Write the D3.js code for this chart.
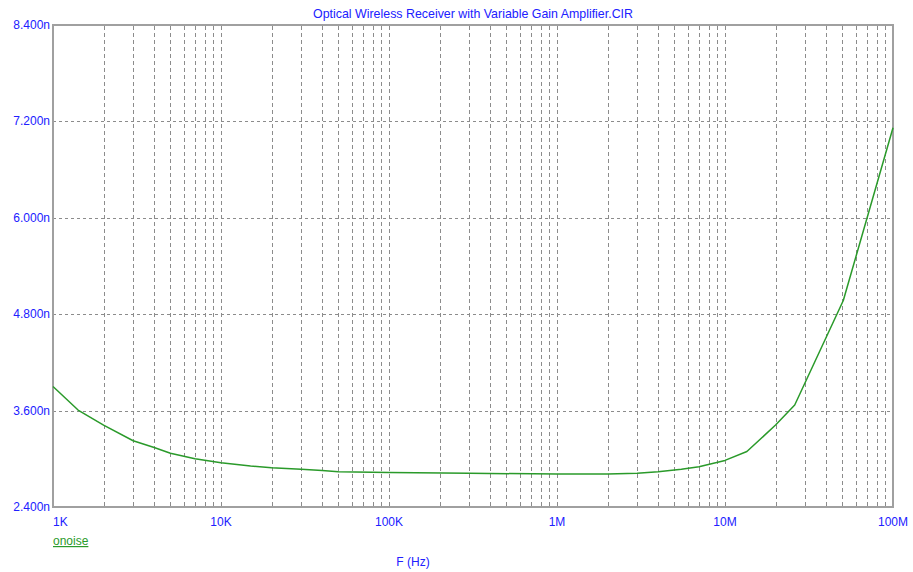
<!DOCTYPE html>
<html>
<head>
<meta charset="utf-8">
<script src="https://cdn.jsdelivr.net/npm/d3@7"></script>
<style>
  html, body { margin: 0; padding: 0; background: #fff; }
  svg { display: block; }
  text { font-family: "Liberation Sans", Arial, sans-serif; font-size: 12px; }
</style>
</head>
<body>
<svg id="chart" width="913" height="572"></svg>
<script>
// ---------- data ----------

const title = "Optical Wireless Receiver with Variable Gain Amplifier.CIR";
const xTitle = "F (Hz)";
const seriesName = "onoise";

// frequency (Hz) and output noise (shown in "n" units)
const freqs = [
  1e3, 1.41e3, 2e3, 3e3, 4e3, 5e3, 7e3, 1e4, 1.5e4, 2e4, 3e4, 4e4, 5e4,
  1e5, 3e5, 1e6, 2e6, 3e6, 4e6, 5.5e6, 7e6, 1e7, 1.35e7, 2e7, 2.6e7,
  5.06e7, 1e8,
];
const onoise = [
  3.90, 3.607, 3.42, 3.225, 3.14, 3.07, 3.00, 2.95, 2.91, 2.89, 2.87, 2.855, 2.84,
  2.83, 2.82, 2.81, 2.81, 2.82, 2.84, 2.87, 2.90, 2.98, 3.09, 3.42, 3.67,
  4.97, 7.12,
];

const xTickValues = [1e3, 1e4, 1e5, 1e6, 1e7, 1e8];
const xTickLabels = ["1K", "10K", "100K", "1M", "10M", "100M"];
const yTickValues = [2.4, 3.6, 4.8, 6.0, 7.2, 8.4];
const yTickLabels = ["2.400n", "3.600n", "4.800n", "6.000n", "7.200n", "8.400n"];

// ---------- layout ----------

const plot = { left: 53, right: 893, top: 25, bottom: 507 };
const blue = "#2020ff";
const green = "#2a9a2a";
const gridColor = "#8c8c8c";

const svg = d3.select("#chart");

const x = d3.scaleLog().domain([1e3, 1e8]).range([plot.left, plot.right]);
const y = d3.scaleLinear().domain([2.4, 8.4]).range([plot.bottom, plot.top]);

// vertical grid (log minor + decades), skip the frame edges
const vGrid = x.ticks().filter((d) => d > 1e3 && d < 1e8);
svg
  .append("g")
  .selectAll("line")
  .data(vGrid)
  .join("line")
  .attr("x1", (d) => Math.round(x(d)) + 0.5)
  .attr("x2", (d) => Math.round(x(d)) + 0.5)
  .attr("y1", plot.top + 1)
  .attr("y2", plot.bottom)
  .attr("stroke", gridColor)
  .attr("stroke-width", 1)
  .attr("stroke-dasharray", "4,3");

// horizontal grid
svg
  .append("g")
  .selectAll("line")
  .data(yTickValues.slice(1, -1))
  .join("line")
  .attr("x1", plot.left)
  .attr("x2", plot.right)
  .attr("y1", (d) => Math.round(y(d)) + 0.5)
  .attr("y2", (d) => Math.round(y(d)) + 0.5)
  .attr("stroke", gridColor)
  .attr("stroke-width", 1)
  .attr("stroke-dasharray", "3,3");

// frame
svg
  .append("rect")
  .attr("x", plot.left)
  .attr("y", plot.top)
  .attr("width", plot.right - plot.left)
  .attr("height", plot.bottom - plot.top)
  .attr("fill", "none")
  .attr("stroke", "#a0a0a0")
  .attr("stroke-width", 2);

// curve
const line = d3
  .line()
  .x((d) => x(d[0]))
  .y((d) => y(d[1]));

svg
  .append("path")
  .datum(d3.zip(freqs, onoise))
  .attr("d", line)
  .attr("fill", "none")
  .attr("stroke", green)
  .attr("stroke-width", 1.5)
  .attr("stroke-linejoin", "round");

// y labels
svg
  .append("g")
  .selectAll("text")
  .data(yTickValues)
  .join("text")
  .attr("x", plot.left - 3)
  .attr("y", (d) => y(d) + 4)
  .attr("text-anchor", "end")
  .attr("fill", blue)
  .text((d, i) => yTickLabels[i]);

// x labels: first one starts at the axis, the rest are centred
svg
  .append("g")
  .selectAll("text")
  .data(xTickValues)
  .join("text")
  .attr("x", (d) => x(d))
  .attr("y", 526)
  .attr("text-anchor", (d, i) => (i === 0 ? "start" : "middle"))
  .attr("fill", blue)
  .text((d, i) => xTickLabels[i]);

// title
svg
  .append("text")
  .attr("x", (plot.left + plot.right) / 2)
  .attr("y", 18)
  .attr("text-anchor", "middle")
  .attr("fill", blue)
  .style("font-size", "12.4px")
  .text(title);

// legend entry
svg
  .append("text")
  .attr("x", plot.left)
  .attr("y", 545)
  .attr("fill", green)
  .attr("text-decoration", "underline")
  .text(seriesName);

// x axis title
svg
  .append("text")
  .attr("x", 413)
  .attr("y", 566)
  .attr("text-anchor", "middle")
  .attr("fill", blue)
  .text(xTitle);
</script>
</body>
</html>
